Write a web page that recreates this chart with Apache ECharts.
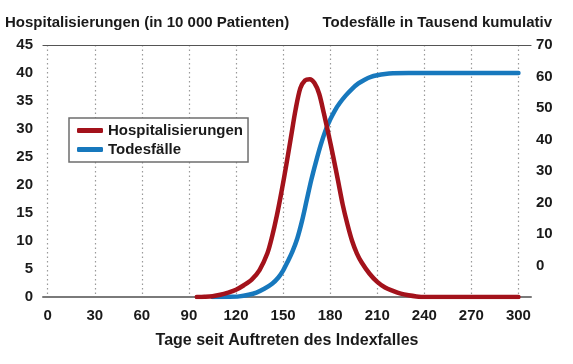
<!DOCTYPE html>
<html><head><meta charset="utf-8">
<script src="https://cdn.jsdelivr.net/npm/echarts@6/dist/echarts.min.js"></script>
<style>html,body{margin:0;padding:0;background:#fff}#c{width:573px;height:364px}</style>
</head><body><div id="c"></div>
<script>
var xTicks = [0, 30, 60, 90, 120, 150, 180, 210, 240, 270, 300];
var leftTitle = 'Hospitalisierungen (in 10 000 Patienten)';
var rightTitle = 'Todesfälle in Tausend kumulativ';
var xName = 'Tage seit Auftreten des Indexfalles';
var seriesNames = ['Hospitalisierungen', 'Todesfälle'];

var hospDays   = [95, 100, 105, 110, 115, 120, 125, 130, 135, 140, 143, 146, 149, 152, 155, 158, 161, 164, 167, 170, 173, 176, 179, 182, 185, 188, 191, 194, 197, 200, 205, 210, 215, 220, 225, 230, 235, 240, 300];
var hospValues = [0, 0.05, 0.15, 0.4, 0.8, 1.3, 2.1, 3.1, 4.8, 7.8, 10.8, 14.5, 18.8, 23.5, 28.5, 33.5, 37.3, 38.7, 38.9, 38.2, 36.3, 32.8, 29, 25, 20.8, 16.5, 13, 10, 7.8, 6.2, 4.2, 2.7, 1.7, 1.1, 0.6, 0.3, 0.1, 0, 0];

var deathDays   = [105, 115, 122, 128, 133, 138, 143, 147, 150, 153, 156, 159, 162, 165, 168, 171, 174, 177, 180, 183, 186, 190, 194, 198, 202, 206, 210, 215, 220, 230, 300];
var deathValues = [-10, -9.95, -9.8, -9.3, -8.6, -7.4, -5.8, -3.8, -1.6, 1.3, 4.5, 8.5, 14, 20.6, 27.2, 33, 38.3, 42.8, 46.3, 49.2, 51.5, 54, 56.1, 57.8, 59, 59.9, 60.4, 60.8, 61, 61.1, 61.1];

function pairs(xs, ys){ return xs.map(function(x,i){ return [x, ys[i]]; }); }

var FONT = '"Liberation Sans Narrow", "Liberation Sans", Arial, sans-serif';
var TXT = '#1a1a1a';
var FS = 15;
var chart = echarts.init(document.getElementById('c'), null, {renderer:'canvas'});
chart.setOption({
  animation: false,
  backgroundColor: '#fff',
  textStyle: {fontFamily: FONT},
  title: [
    {text: leftTitle, left: 0, top: 10, textStyle: {fontFamily: FONT, fontWeight: 'bold', fontSize: FS, color: TXT}},
    {text: rightTitle, right: 16, top: 10, textStyle: {fontFamily: FONT, fontWeight: 'bold', fontSize: FS, color: TXT}}
  ],
  legend: {
    orient: 'vertical', left: 69, top: 118,
    padding: [4, 5, 4, 8],
    itemGap: 2, itemWidth: 26, itemHeight: 5,
    borderColor: '#6e6e6e', borderWidth: 1.5, backgroundColor: '#fff',
    textStyle: {fontFamily: FONT, fontWeight: 'bold', fontSize: 15, lineHeight: 17, color: TXT},
    data: [{name: seriesNames[0], icon: 'roundRect'}, {name: seriesNames[1], icon: 'roundRect'}]
  },
  grid: {left: 43, right: 42, top: 45, bottom: 67, containLabel: false},
  xAxis: [{
    type: 'value', min: -3, max: 308,
    name: xName, nameLocation: 'middle', nameGap: 36,
    nameTextStyle: {fontFamily: FONT, fontWeight: 'bold', fontSize: 16, color: TXT},
    axisLine: {show: true, lineStyle: {color: '#7a7a7a', width: 2}},
    axisTick: {show: false, customValues: xTicks},
    axisLabel: {customValues: xTicks, margin: 11, fontFamily: FONT, fontWeight: 'bold', fontSize: FS, color: TXT},
    splitLine: {show: true, lineStyle: {type: [1.5, 3], color: '#9a9a9a', width: 1.2}}
  }, {
    type: 'value', min: -3, max: 308, position: 'top',
    axisLine: {show: true, onZero: false, lineStyle: {color: '#555', width: 1.2}},
    axisTick: {show: false}, axisLabel: {show: false}, splitLine: {show: false}
  }],
  yAxis: [{
    type: 'value', min: 0, max: 45, interval: 5, position: 'left',
    axisLine: {show: false}, axisTick: {show: false},
    axisLabel: {margin: 10, fontFamily: FONT, fontWeight: 'bold', fontSize: FS, color: TXT},
    splitLine: {show: false}
  }, {
    type: 'value', min: -10, max: 70, interval: 10, position: 'right',
    axisLine: {show: false}, axisTick: {show: false},
    axisLabel: {margin: 5, align: 'left', fontFamily: FONT, fontWeight: 'bold', fontSize: FS, color: TXT,
      formatter: function(v){ return v < 0 ? '' : String(v); }},
    splitLine: {show: false}
  }],
  series: [{
    name: seriesNames[0], type: 'line', xAxisIndex: 0, yAxisIndex: 0,
    data: pairs(hospDays, hospValues), smooth: 0.3, symbol: 'none',
    lineStyle: {color: '#a3121b', width: 4.5, cap: 'round'}, itemStyle: {color: '#a3121b'}, z: 3
  }, {
    name: seriesNames[1], type: 'line', xAxisIndex: 0, yAxisIndex: 1,
    data: pairs(deathDays, deathValues), smooth: 0.3, symbol: 'none',
    lineStyle: {color: '#1778bd', width: 4.5, cap: 'round'}, itemStyle: {color: '#1778bd'}, z: 2
  }]
});
</script></body></html>
